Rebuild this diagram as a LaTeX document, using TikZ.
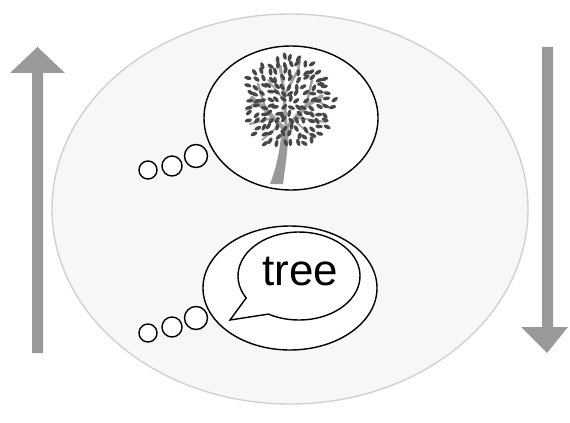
\documentclass[tikz,border=0pt]{standalone}
\usepackage{fontspec}
\setmainfont{Liberation Sans}

\tikzset{
  bubble/.style={draw=black, line width=0.8pt, fill=white},
  bigarrow/.style={fill=black!40, draw=none},
  leaf/.style={fill=black!72, draw=none},
  twig/.style={draw=black!38, line cap=round}
}

\begin{document}
\begin{tikzpicture}[x=0.02cm,y=-0.02cm]
\useasboundingbox (0,0) rectangle (570,422);
% pale disc behind everything
\draw[fill=black!3, draw=black!18, line width=0.8pt] (290,209) ellipse (238 and 195);

% up arrow on the left, down arrow on the right
\path[bigarrow] (32,353) -- (32,73) -- (10,73) -- (37.5,47) -- (65,73) -- (43,73) -- (43,353) -- cycle;
\path[bigarrow] (542,47) -- (542,327) -- (521,327) -- (547,353) -- (568,327) -- (553,327) -- (553,47) -- cycle;

% thought bubble with the picture
\draw[bubble] (291,118) ellipse (87 and 72);
\draw[bubble] (196,156) circle (11.5);
\draw[bubble] (172,166) circle (10);
\draw[bubble] (148,170) circle (9);

% tree: trunk, twigs, then leaves
\fill[black!40] (270,184) .. controls (277,166) and (280,150) .. (282,126)
  -- (289,126) .. controls (288,150) and (285,168) .. (283,184) -- cycle;
\draw[twig, line width=2.4pt] (285,130) -- (266,110) -- (252,98);
\draw[twig, line width=2.2pt] (286,128) -- (306,106) -- (322,96);
\draw[twig, line width=1.8pt] (286,126) -- (284,92) -- (280,66);
\draw[twig, line width=1.4pt] (266,110) -- (258,84);
\draw[twig, line width=1.4pt] (284,96) -- (298,70) -- (300,60);
\draw[twig, line width=1.4pt] (306,106) -- (312,80);
\draw[twig, line width=1.2pt] (298,118) -- (326,122);
\draw[twig, line width=1.2pt] (272,118) -- (250,124);
\draw[twig, line width=1pt] (284,100) -- (268,80);
\draw[twig, line width=1pt] (258,100) -- (246,110);
\draw[twig, line width=1pt] (316,100) -- (330,108);
\draw[twig, line width=1pt] (276,128) -- (262,140);
\draw[twig, line width=1pt] (296,122) -- (314,138);
% leaves on a jittered grid inside the crown
\pgfmathsetseed{11}
\foreach \gy in {-45,-38,...,45}{
  \foreach \gx in {-46,-39,...,46}{
    \pgfmathparse{((\gx/46)^2+(\gy/47)^2<1) ? 1 : 0}
    \ifnum\pgfmathresult=1
      \pgfmathsetmacro\lx{288+\gx+rnd*4-2}
      \pgfmathsetmacro\ly{103+\gy+rnd*4-2}
      \pgfmathsetmacro\rot{atan2(-\gy,\gx)+rnd*70-35}
      \fill[leaf, rotate around={\rot:(\lx,\ly)}] (\lx,\ly) ellipse (3.7 and 1.9);
    \fi
  }
}

% thought bubble with the word
\draw[bubble] (290,288) ellipse (87 and 62);
\draw[bubble] (196,318) circle (11.5);
\draw[bubble] (172,327) circle (10);
\draw[bubble] (148,333) circle (9);
\draw[bubble] (230,320) -- ([shift={(299,276)}]150:61 and 44)
  arc[start angle=150, end angle=480, x radius=61, y radius=44] -- cycle;
\node[font=\fontsize{25}{25}\selectfont] (word) at (300,272) {tree};
\end{tikzpicture}
\end{document}
